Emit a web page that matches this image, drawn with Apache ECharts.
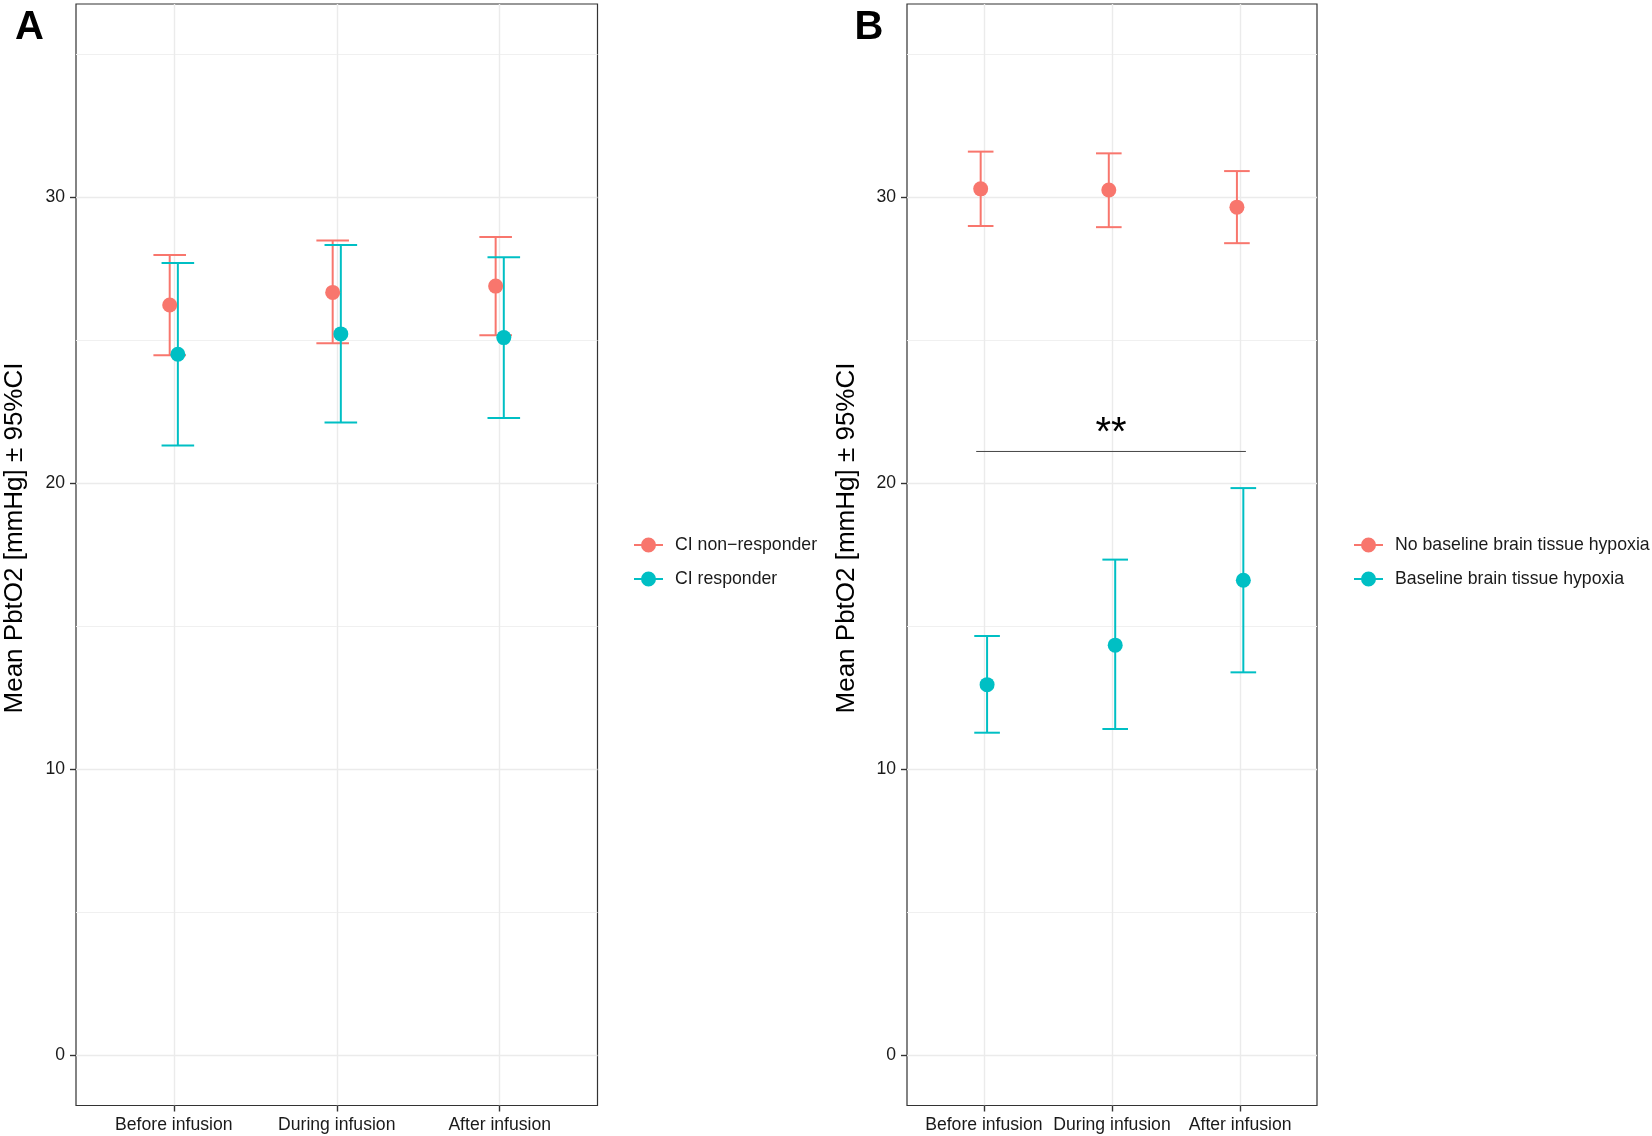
<!DOCTYPE html>
<html><head><meta charset="utf-8">
<script src="https://cdn.jsdelivr.net/npm/echarts@6/dist/echarts.min.js"></script>
<style>html,body{margin:0;padding:0;background:#fff}#c{width:1652px;height:1136px}</style>
</head><body><div id="c"></div>
<script>
// ---------- data ----------
const categories = ['Before infusion', 'During infusion', 'After infusion'];
const yTicks = [0, 10, 20, 30];
const yMinorTicks = [5, 15, 25, 35];
const yTitle = 'Mean PbtO2 [mmHg] \u00b1 95%CI';

// Panel A
const aGroups = ['CI non\u2212responder', 'CI responder'];
const aNonMean = [26.23, 26.67, 26.89];
const aNonLow  = [24.47, 24.89, 25.17];
const aNonHigh = [27.98, 28.48, 28.61];
const aRespMean = [24.51, 25.22, 25.09];
const aRespLow  = [21.32, 22.12, 22.28];
const aRespHigh = [27.70, 28.33, 27.90];

// Panel B
const bGroups = ['No baseline brain tissue hypoxia', 'Baseline brain tissue hypoxia'];
const bNoMean = [30.29, 30.25, 29.65];
const bNoLow  = [28.99, 28.95, 28.39];
const bNoHigh = [31.59, 31.53, 30.91];
const bHypMean = [12.96, 14.34, 16.61];
const bHypLow  = [11.28, 11.41, 13.39];
const bHypHigh = [14.66, 17.33, 19.83];

// significance bracket (x from, x to, y) and label
const sigBar = [0.94, 3.045, 21.11];
const sigLabel = '**';

// ---------- style ----------
const RED = '#F8766D', TEAL = '#00BFC4';
const FONT = '"Liberation Sans", Arial, Helvetica, sans-serif';
const DODGE = 0.025, CAP = 0.1;
const Y_MIN = -1.75, Y_MAX = 36.75;
const catPos = categories.map((c, i) => i + 1);
const ICON = 'path://M0,6.5H7.2V8.5H0Z M21.8,6.5H29V8.5H21.8Z M7,7.5A7.5,7.5 0 1 1 22,7.5A7.5,7.5 0 1 1 7,7.5Z';

function errItems(low, high, off) { return catPos.map((x, i) => [x + off, low[i], high[i]]); }
function ptItems(mean, off) { return catPos.map((x, i) => [x + off, mean[i]]); }

function renderErr(params, api) {
  const x = api.value(0), lo = api.value(1), hi = api.value(2);
  const pLo = api.coord([x, lo]), pHi = api.coord([x, hi]);
  const xl = api.coord([x - CAP, lo])[0], xr = api.coord([x + CAP, lo])[0];
  const style = { stroke: api.visual('color'), lineWidth: 2, fill: null };
  return { type: 'group', children: [
    { type: 'line', shape: { x1: pLo[0], y1: pLo[1], x2: pHi[0], y2: pHi[1] }, style },
    { type: 'line', shape: { x1: xl, y1: pHi[1], x2: xr, y2: pHi[1] }, style },
    { type: 'line', shape: { x1: xl, y1: pLo[1], x2: xr, y2: pLo[1] }, style }
  ]};
}
function renderSig(params, api) {
  const p1 = api.coord([api.value(0), api.value(2)]);
  const p2 = api.coord([api.value(1), api.value(2)]);
  return { type: 'group', children: [
    { type: 'line', shape: { x1: p1[0], y1: p1[1], x2: p2[0], y2: p2[1] }, style: { stroke: '#444', lineWidth: 1 } },
    { type: 'text', x: (p1[0] + p2[0]) / 2, y: p1[1] - 17,
      style: { text: sigLabel, fontSize: 40, fontFamily: FONT, fill: '#000', align: 'center', verticalAlign: 'middle' } }
  ]};
}

const grids = [
  { left: 76, top: 4, width: 521.5, height: 1101.5 },
  { left: 907, top: 4, width: 410, height: 1101.5 }
].map(g => Object.assign({ show: true, borderColor: '#333', borderWidth: 1.2, backgroundColor: '#fff', outerBoundsMode: 'none', containLabel: false }, g));

function xAxis(g) {
  return { type: 'value', gridIndex: g, min: 0.4, max: 3.6, position: 'bottom',
    axisLine: { show: false, onZero: false },
    axisTick: { show: true, inside: false, length: 6, customValues: catPos, lineStyle: { color: '#333', width: 1.4 } },
    axisLabel: { customValues: catPos, formatter: v => categories[Math.round(v) - 1], margin: 11,
      color: '#1a1a1a', fontSize: 17.6, fontFamily: FONT },
    splitLine: { show: true, lineStyle: { color: '#EBEBEB', width: 1.4 } } };
}
function yMajor(g) {
  return { type: 'value', gridIndex: g, min: Y_MIN, max: Y_MAX, position: 'left',
    axisLine: { show: false, onZero: false },
    axisTick: { show: true, inside: false, length: 6, customValues: yTicks, lineStyle: { color: '#333', width: 1.4 } },
    axisLabel: { customValues: yTicks, margin: 11, color: '#1a1a1a', fontSize: 17.6, fontFamily: FONT },
    splitLine: { show: true, lineStyle: { color: '#EBEBEB', width: 1.4 } } };
}
function yMinor(g) {
  return { type: 'value', gridIndex: g, min: Y_MIN, max: Y_MAX, position: 'left',
    axisLine: { show: false, onZero: false },
    axisTick: { show: false, customValues: yMinorTicks },
    axisLabel: { show: false, customValues: yMinorTicks },
    splitLine: { show: true, lineStyle: { color: '#F0F0F0', width: 1 } } };
}

function pointSeries(name, color, mean, off, xi, yi) {
  return { type: 'scatter', name, xAxisIndex: xi, yAxisIndex: yi, data: ptItems(mean, off),
    symbol: 'circle', symbolSize: 15, itemStyle: { color, opacity: 1 }, z: 4, silent: true };
}
function errSeries(name, color, low, high, off, xi, yi) {
  return { type: 'custom', name, xAxisIndex: xi, yAxisIndex: yi, data: errItems(low, high, off),
    renderItem: renderErr, itemStyle: { color }, z: 3, silent: true, encode: { x: 0, y: [1, 2] } };
}
function legend(left, names) {
  return { orient: 'vertical', left, top: 531, itemWidth: 29, itemHeight: 15, itemGap: 16,
    selectedMode: false,
    data: names.map(n => ({ name: n, icon: ICON })),
    textStyle: { fontSize: 17.7, fontFamily: FONT, color: '#1a1a1a', padding: [0, 0, 0, 7], lineHeight: 18 } };
}

const option = {
  animation: false,
  backgroundColor: '#fff',
  grid: grids,
  xAxis: [xAxis(0), xAxis(1)],
  yAxis: [yMajor(0), yMinor(0), yMajor(1), yMinor(1)],
  legend: [legend(629, aGroups), legend(1349, bGroups)],
  series: [
    pointSeries(aGroups[0], RED, aNonMean, -DODGE, 0, 0),
    pointSeries(aGroups[1], TEAL, aRespMean, DODGE, 0, 0),
    errSeries(aGroups[0], RED, aNonLow, aNonHigh, -DODGE, 0, 0),
    errSeries(aGroups[1], TEAL, aRespLow, aRespHigh, DODGE, 0, 0),
    pointSeries(bGroups[0], RED, bNoMean, -DODGE, 1, 2),
    pointSeries(bGroups[1], TEAL, bHypMean, DODGE, 1, 2),
    errSeries(bGroups[0], RED, bNoLow, bNoHigh, -DODGE, 1, 2),
    errSeries(bGroups[1], TEAL, bHypLow, bHypHigh, DODGE, 1, 2),
    { type: 'custom', xAxisIndex: 1, yAxisIndex: 2, data: [sigBar], renderItem: renderSig, z: 3, silent: true,
      encode: { x: [0, 1], y: 2 } }
  ],
  graphic: [
    { type: 'text', x: 29.5, y: 28, style: { text: 'A', fontSize: 40, fontWeight: 'bold', fontFamily: FONT, fill: '#000', align: 'center', verticalAlign: 'middle' } },
    { type: 'text', x: 869, y: 28, style: { text: 'B', fontSize: 40, fontWeight: 'bold', fontFamily: FONT, fill: '#000', align: 'center', verticalAlign: 'middle' } },
    { type: 'text', x: 15, y: 538, rotation: Math.PI / 2, style: { text: yTitle, fontSize: 26, fontFamily: FONT, fill: '#000', align: 'center', verticalAlign: 'middle' } },
    { type: 'text', x: 847, y: 538, rotation: Math.PI / 2, style: { text: yTitle, fontSize: 26, fontFamily: FONT, fill: '#000', align: 'center', verticalAlign: 'middle' } }
  ]
};
const chart = echarts.init(document.getElementById('c'), null, { renderer: 'canvas' });
chart.setOption(option);
</script></body></html>
